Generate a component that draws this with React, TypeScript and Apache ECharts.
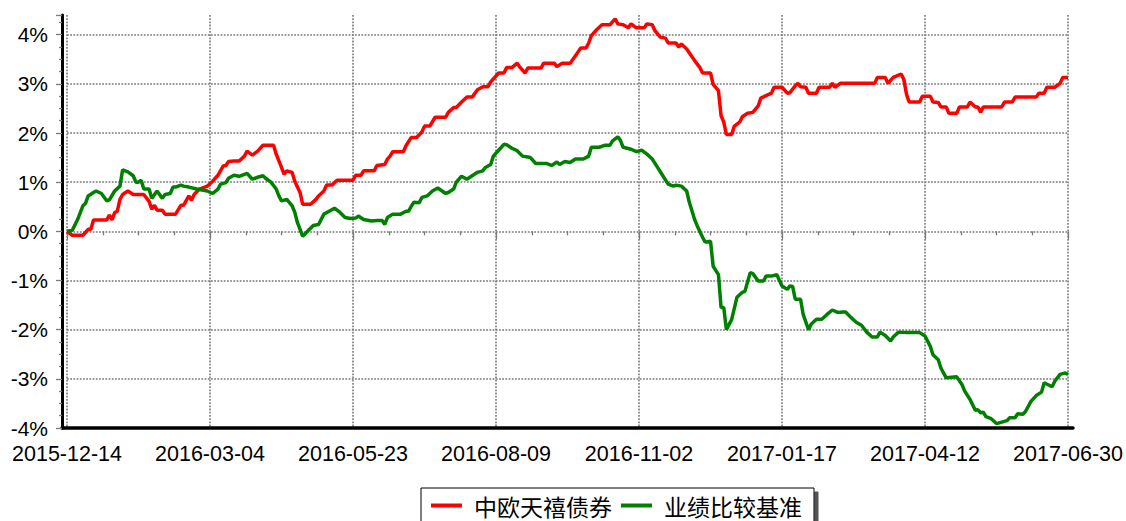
import React, { useEffect, useRef } from "react";
import * as echarts from "echarts";

// x tick labels, one every 54 trading days
const xTickLabels = [
  "2015-12-14",
  "2016-03-04",
  "2016-05-23",
  "2016-08-09",
  "2016-11-02",
  "2017-01-17",
  "2017-04-12",
  "2017-06-30",
];
const tickStep = 54;
const lastDay = 378;

const seriesNames = ["中欧天禧债券", "业绩比较基准"];

// [trading-day index, cumulative return %]
const fundSeries: [number, number][] = [
  [0, 0], [2, -0.08], [6, -0.08], [8, 0.04], [9, 0.04], [10, 0.23], [15, 0.23], [16, 0.33], [17, 0.23], [18, 0.38],
  [19, 0.41], [20, 0.65], [21, 0.75], [23, 0.82], [25, 0.75], [29, 0.75], [31, 0.61], [32, 0.45], [33, 0.53], [34, 0.43],
  [36, 0.43], [37, 0.35], [41, 0.35], [43, 0.53], [44, 0.53], [46, 0.72], [47, 0.63], [48, 0.75], [50, 0.86], [53, 0.92],
  [55, 1.02], [57, 1.14], [59, 1.33], [60, 1.34], [61, 1.42], [63, 1.43], [65, 1.43], [67, 1.53], [68, 1.63], [70, 1.55],
  [72, 1.63], [74, 1.75], [78, 1.75], [79, 1.57], [81, 1.3], [82, 1.16], [83, 1.23], [85, 1.2], [86, 1.02], [88, 0.79],
  [89, 0.55], [92, 0.55], [94, 0.65], [95, 0.72], [97, 0.82], [98, 0.94], [100, 0.94], [102, 1.04], [108, 1.04], [109, 1.14],
  [111, 1.14], [112, 1.23], [116, 1.23], [117, 1.34], [120, 1.36], [121, 1.47], [122, 1.53], [123, 1.62], [127, 1.62], [128, 1.74],
  [130, 1.91], [132, 1.91], [134, 2.02], [135, 2.14], [137, 2.14], [139, 2.32], [143, 2.32], [144, 2.42], [146, 2.52], [147, 2.52],
  [149, 2.63], [151, 2.73], [153, 2.73], [155, 2.88], [157, 2.94], [159, 2.94], [160, 3.04], [162, 3.16], [163, 3.22], [165, 3.22],
  [166, 3.33], [168, 3.33], [170, 3.42], [171, 3.34], [173, 3.22], [174, 3.32], [179, 3.32], [180, 3.42], [184, 3.42], [185, 3.35],
  [187, 3.42], [190, 3.42], [192, 3.57], [193, 3.65], [194, 3.73], [196, 3.73], [197, 3.83], [198, 3.98], [200, 4.1], [202, 4.2],
  [205, 4.2], [207, 4.32], [208, 4.22], [210, 4.2], [212, 4.14], [213, 4.22], [215, 4.14], [218, 4.14], [219, 4.22], [221, 4.2],
  [222, 4.08], [224, 3.95], [226, 3.93], [227, 3.83], [230, 3.83], [231, 3.75], [232, 3.81], [234, 3.71], [236, 3.55], [238, 3.4],
  [239, 3.33], [240, 3.22], [243, 3.22], [244, 2.99], [246, 2.86], [247, 2.35], [248, 2.22], [249, 1.97], [251, 1.97], [252, 2.14],
  [254, 2.22], [255, 2.33], [257, 2.4], [259, 2.42], [261, 2.55], [262, 2.71], [264, 2.76], [266, 2.81], [267, 2.93], [270, 2.93],
  [272, 2.81], [273, 2.82], [275, 2.96], [276, 3.01], [277, 2.94], [279, 2.93], [280, 2.81], [283, 2.81], [284, 2.93], [288, 2.93],
  [289, 3.01], [290, 2.93], [292, 3.01], [305, 3.01], [306, 3.13], [309, 3.13], [310, 3.01], [312, 3.13], [315, 3.2], [316, 3.09],
  [317, 2.79], [318, 2.63], [322, 2.63], [323, 2.75], [326, 2.75], [327, 2.63], [329, 2.62], [330, 2.53], [332, 2.53], [333, 2.4],
  [336, 2.4], [337, 2.53], [340, 2.53], [341, 2.63], [343, 2.53], [344, 2.53], [345, 2.42], [346, 2.53], [353, 2.53], [354, 2.63],
  [357, 2.63], [358, 2.73], [366, 2.73], [367, 2.81], [369, 2.81], [370, 2.93], [373, 2.93], [375, 3.01], [376, 3.13], [378, 3.13],
];

const benchSeries: [number, number][] = [
  [0, 0], [2, 0.02], [4, 0.24], [6, 0.52], [7, 0.57], [8, 0.72], [10, 0.79], [11, 0.82], [13, 0.77], [15, 0.62],
  [16, 0.64], [18, 0.82], [20, 0.92], [21, 1.25], [23, 1.21], [25, 1.13], [26, 1.0], [27, 1.0], [28, 1.04], [29, 0.86],
  [31, 0.86], [32, 0.67], [34, 0.82], [36, 0.67], [37, 0.75], [39, 0.77], [40, 0.9], [41, 0.9], [43, 0.94], [44, 0.92],
  [46, 0.9], [49, 0.86], [53, 0.82], [55, 0.77], [57, 0.86], [58, 0.96], [60, 0.99], [61, 1.08], [63, 1.14], [65, 1.12],
  [68, 1.18], [70, 1.06], [72, 1.1], [74, 1.13], [75, 1.08], [77, 1.0], [79, 0.86], [80, 0.72], [81, 0.62], [83, 0.65],
  [85, 0.52], [86, 0.39], [87, 0.18], [89, -0.1], [91, 0.01], [93, 0.12], [95, 0.14], [97, 0.35], [99, 0.41], [101, 0.47],
  [103, 0.39], [105, 0.28], [107, 0.26], [109, 0.27], [110, 0.31], [112, 0.24], [115, 0.21], [117, 0.22], [119, 0.22], [120, 0.14],
  [121, 0.28], [123, 0.35], [126, 0.35], [128, 0.41], [129, 0.41], [130, 0.51], [131, 0.59], [133, 0.58], [134, 0.69], [136, 0.72],
  [138, 0.82], [140, 0.88], [143, 0.77], [144, 0.79], [146, 0.86], [147, 1.0], [149, 1.12], [151, 1.06], [153, 1.13], [155, 1.2],
  [157, 1.23], [158, 1.3], [160, 1.36], [161, 1.53], [163, 1.65], [165, 1.77], [166, 1.76], [168, 1.69], [170, 1.64], [172, 1.53],
  [174, 1.51], [175, 1.5], [177, 1.38], [181, 1.38], [183, 1.34], [185, 1.41], [186, 1.36], [188, 1.42], [190, 1.4], [192, 1.47],
  [195, 1.47], [197, 1.53], [198, 1.71], [201, 1.71], [203, 1.75], [205, 1.75], [206, 1.84], [208, 1.92], [209, 1.85], [210, 1.71],
  [213, 1.67], [215, 1.62], [217, 1.65], [219, 1.57], [221, 1.47], [223, 1.3], [225, 1.13], [227, 0.96], [229, 0.92], [230, 0.94],
  [232, 0.92], [234, 0.82], [235, 0.59], [237, 0.24], [238, 0.11], [240, -0.12], [241, -0.22], [243, -0.2], [244, -0.71], [246, -0.88],
  [247, -1.55], [248, -1.55], [249, -2.0], [251, -1.79], [253, -1.34], [255, -1.24], [256, -1.22], [258, -0.84], [259, -0.86], [261, -1.01],
  [263, -1.01], [264, -0.91], [266, -0.91], [268, -0.88], [270, -1.11], [272, -1.18], [273, -1.11], [274, -1.12], [275, -1.38], [277, -1.38],
  [278, -1.69], [280, -2.0], [281, -1.89], [283, -1.79], [285, -1.79], [287, -1.69], [289, -1.6], [291, -1.65], [293, -1.64], [294, -1.64],
  [296, -1.75], [298, -1.85], [300, -1.91], [302, -2.05], [304, -2.15], [306, -2.15], [307, -2.05], [309, -2.12], [311, -2.23], [312, -2.15],
  [314, -2.05], [317, -2.06], [322, -2.06], [324, -2.13], [326, -2.34], [327, -2.51], [329, -2.61], [330, -2.78], [332, -2.98], [336, -2.96],
  [338, -3.12], [339, -3.25], [341, -3.42], [343, -3.64], [344, -3.63], [345, -3.69], [346, -3.68], [347, -3.77], [349, -3.81], [351, -3.91],
  [353, -3.88], [355, -3.85], [356, -3.79], [358, -3.79], [359, -3.71], [361, -3.72], [362, -3.66], [364, -3.46], [366, -3.34], [368, -3.27],
  [369, -3.08], [372, -3.16], [373, -3.05], [375, -2.91], [377, -2.88], [378, -2.91],
];

const yMin = -4;
const yMax = 4.4;

const FONT = "'Liberation Sans', Arial, sans-serif";
const GRID_COLOR = "#7a7a7a";

export default function App() {
  const ref = useRef<HTMLDivElement>(null);

  useEffect(() => {
    document.body.style.margin = "0";
    const chart = echarts.init(ref.current!, null, { renderer: "svg" });
    const dotted = { color: GRID_COLOR, width: 1.6, type: [1.8, 1.4] as number[] };
    chart.setOption({
      animation: false,
      backgroundColor: "#ffffff",
      grid: [
        { left: 67, right: 57, top: 15, bottom: 93 },
        { left: 62, right: 53, top: 15, bottom: 93 },
      ],
      legend: {
        data: seriesNames,
        left: 421,
        top: 488,
        orient: "horizontal",
        icon: "rect",
        itemWidth: 31,
        itemHeight: 4,
        itemGap: 9,
        padding: [6, 12, 10, 10],
        borderColor: "#000",
        borderWidth: 1,
        backgroundColor: "#fff",
        shadowColor: "#555",
        shadowBlur: 0,
        shadowOffsetX: 4,
        shadowOffsetY: 4,
        textStyle: {
          fontSize: 23,
          color: "#000",
          fontFamily: "'Noto Sans CJK SC', sans-serif",
          padding: [0, 0, 0, 7],
        },
      },
      xAxis: [
        {
          gridIndex: 0,
          type: "value",
          min: 0,
          max: lastDay,
          interval: tickStep,
          axisLine: { show: false },
          axisTick: { show: true, length: 8, lineStyle: { color: GRID_COLOR, width: 1.3 } },
          minorTick: { show: true, splitNumber: 4, length: 4, lineStyle: { color: GRID_COLOR, width: 1.3 } },
          axisLabel: {
            formatter: (v: number) => xTickLabels[Math.round(v / tickStep)] ?? "",
            fontSize: 21.5,
            fontFamily: FONT,
            color: "#000",
            margin: 15,
          },
          splitLine: { show: true, lineStyle: dotted },
        },
        {
          gridIndex: 1,
          type: "value",
          min: 0,
          max: 1,
          axisLine: { show: true, onZero: false, lineStyle: { color: "#000", width: 3.5 } },
          axisTick: { show: false },
          axisLabel: { show: false },
          splitLine: { show: false },
        },
      ],
      yAxis: [
        {
          gridIndex: 0,
          type: "value",
          min: yMin,
          max: yMax,
          interval: 1,
          axisLine: { show: false },
          axisTick: { show: false },
          axisLabel: { show: false },
          splitLine: { show: true, showMaxLine: false, lineStyle: dotted },
        },
        {
          gridIndex: 1,
          type: "value",
          min: yMin,
          max: yMax,
          interval: 1,
          axisLine: { show: true, onZero: false, lineStyle: { color: "#000", width: 3 } },
          axisTick: { show: true, length: 6, lineStyle: { color: GRID_COLOR, width: 1.3 } },
          minorTick: { show: true, splitNumber: 4, length: 3, lineStyle: { color: GRID_COLOR, width: 1.3 } },
          axisLabel: {
            formatter: (v: number) => (Number.isInteger(v) ? `${v}%` : ""),
            fontSize: 21,
            fontFamily: FONT,
            color: "#000",
            margin: 14,
          },
          splitLine: { show: false },
        },
      ],
      series: [
        {
          name: seriesNames[0],
          type: "line",
          xAxisIndex: 0,
          yAxisIndex: 0,
          data: fundSeries,
          showSymbol: false,
          symbol: "none",
          itemStyle: { color: "#ff0000" },
          lineStyle: { color: "#ff0000", width: 3.5 },
          z: 3,
        },
        {
          name: seriesNames[1],
          type: "line",
          xAxisIndex: 0,
          yAxisIndex: 0,
          data: benchSeries,
          showSymbol: false,
          symbol: "none",
          itemStyle: { color: "#008000" },
          lineStyle: { color: "#008000", width: 3.5 },
          z: 3,
        },
      ],
    });
    return () => chart.dispose();
  }, []);

  return <div ref={ref} style={{ width: 1126, height: 521 }} />;
}
